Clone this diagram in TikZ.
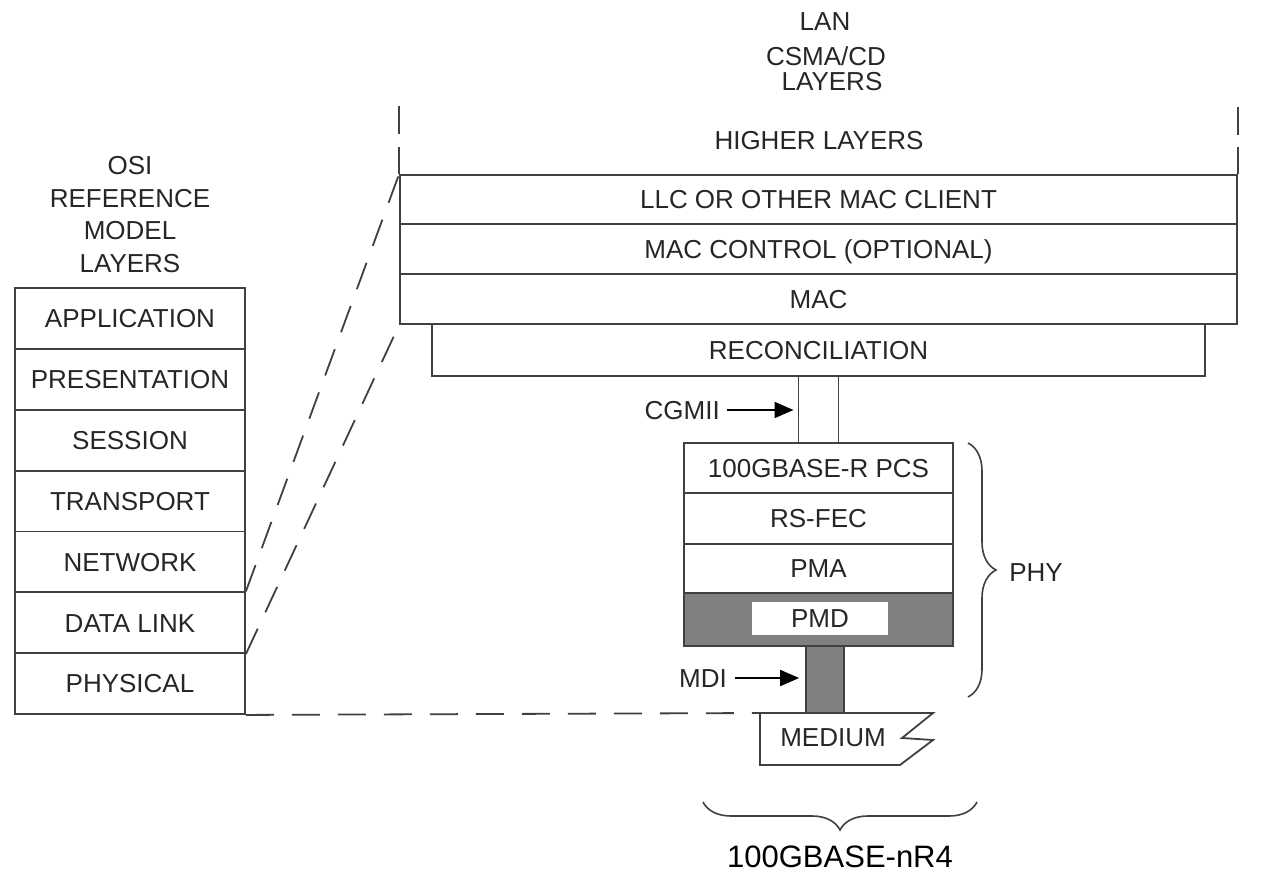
\documentclass[tikz,border=0pt]{standalone}
\usepackage{fontspec}
\setmainfont{Liberation Sans}
\usetikzlibrary{arrows.meta,calc,decorations.pathreplacing}
\definecolor{lc}{HTML}{404040}
\definecolor{tc}{HTML}{262626}
\definecolor{fillg}{HTML}{808080}
\newcommand\labfont{\fontsize{26}{31}\selectfont}
\newcommand\bigfont{\fontsize{31}{37}\selectfont}
\begin{document}
\begin{tikzpicture}[x=1pt,y=-1pt,
  txt/.style={inner sep=0pt, text=tc, font=\labfont, text height=18.6pt, text depth=0pt},
  box/.style={txt, draw=lc, line width=1.8pt, minimum width=#1},
  dashline/.style={draw=lc, line width=1.8pt, dash pattern=on 28pt off 18pt},
  conn/.style={draw=lc, line width=1.8pt},
  arr/.style={draw=black, line width=2pt, -{Triangle[length=19pt,width=16pt]}},
  brc/.style={draw=lc, line width=1.6pt, decorate, decoration={brace, amplitude=28pt}}
]
\useasboundingbox (0,0) rectangle (1268,875);

% OSI title
\node[txt] (osi1) at (130,165) {OSI};
\node[txt] (osi2) at (130,198) {REFERENCE};
\node[txt] (osi3) at (130,230) {MODEL};
\node[txt] (osi4) at (130,263) {LAYERS};

% OSI stack
\node[box=230, minimum height=60.86] (app)   at (130,318.4) {APPLICATION};
\node[box=230, minimum height=60.86] (pres)  at (130,379.3) {PRESENTATION};
\node[box=230, minimum height=60.86] (sess)  at (130,440.2) {SESSION};
\node[box=230, minimum height=60.86] (trans) at (130,501.0) {TRANSPORT};
\node[box=230, minimum height=60.86] (net)   at (130,561.9) {NETWORK};
\node[box=230, minimum height=60.86] (dl)    at (130,622.7) {DATA LINK};
\node[box=230, minimum height=60.86] (phys)  at (130,683.6) {PHYSICAL};

% LAN title
\node[txt] (lan1) at (825,21) {LAN};
\node[txt] (lan2) at (826,56) {CSMA/CD};
\node[txt] (lan3) at (832,81) {LAYERS};

% LAN stack
\node[box=837, minimum height=49] (llc)   at (818.5,199.5) {LLC OR OTHER MAC CLIENT};
\node[box=837, minimum height=50] (macc)  at (818.5,249) {MAC CONTROL (OPTIONAL)};
\node[box=837, minimum height=50] (mac)   at (818.5,299) {MAC};
\node[box=773, minimum height=52] (recon) at (818.5,350) {RECONCILIATION};
\node[txt] (higher) at (819,140) {HIGHER LAYERS};

% dashed side lines of higher layers
\draw[conn] ([yshift=27pt]llc.north west) -- (llc.north west);
\draw[conn] ([yshift=40pt]llc.north west) -- ([yshift=68pt]llc.north west);
\draw[conn] ([yshift=27pt]llc.north east) -- (llc.north east);
\draw[conn] ([yshift=39pt]llc.north east) -- ([yshift=67pt]llc.north east);

% PHY stack
\node[box=269, minimum height=50] (pcs)   at (818.5,468) {100GBASE-R PCS};
\node[box=269, minimum height=51] (rsfec) at (818.5,518.5) {RS-FEC};
\node[box=269, minimum height=49] (pma)   at (818.5,568.5) {PMA};
\node[box=269, minimum height=53, fill=fillg] (pmd) at (818.5,619.5) {};
\node[txt, fill=white, minimum width=136, minimum height=33] (pmdin) at (820,618.5) {PMD};

% CGMII
\coordinate (cgl) at ([xshift=-20pt]pcs.north);
\coordinate (cgr) at ([xshift=20pt]pcs.north);
\draw[conn] (cgl |- recon.south) -- (cgl);
\draw[conn] (cgr |- recon.south) -- (cgr);
\node[txt, anchor=east] (cgmii) at (720,410) {CGMII};
\draw[arr] ([xshift=7pt]cgmii.east) -- ([xshift=-5pt]cgmii.east -| cgl);

% MDI connector
\node[draw=lc, line width=1.8pt, fill=fillg, inner sep=0pt, minimum width=38, minimum height=67] (mdic) at (825,679.5) {};
\node[txt, anchor=east] (mdi) at (727,678) {MDI};
\draw[arr] ([xshift=8pt]mdi.east) -- ([xshift=-6pt]mdi.east -| mdic.west);

% Medium
\coordinate (medtl) at (760,713);
\draw[conn, line join=miter] (medtl) -- ++(173,0) -- ++(-31,25) -- ++(31,2) -- ++(-33,25) -- ++(-140,0) -- cycle;
\node[txt] (medium) at (833,737) {MEDIUM};

% dashed mapping lines
\draw[dashline] (dl.north east) -- (llc.north west);
\draw[dashline] (dl.south east) -- (mac.south west);
\draw[dashline] (phys.south east) -- (medtl);

% PHY brace
\coordinate (phyt) at (968,443);
\coordinate (phyb) at (968,697);
\draw[brc] (phyt) -- (phyb);
\node[txt] (phy) at (1036,572) {PHY};

% bottom brace
\coordinate (bbr) at (977,802);
\coordinate (bbl) at (703,802);
\draw[brc] (bbr) -- (bbl);
\node[inner sep=0pt, font=\bigfont, text=black, text height=22.2pt, text depth=0pt] (nr4) at (840,856) {100GBASE-nR4};
\end{tikzpicture}
\end{document}
